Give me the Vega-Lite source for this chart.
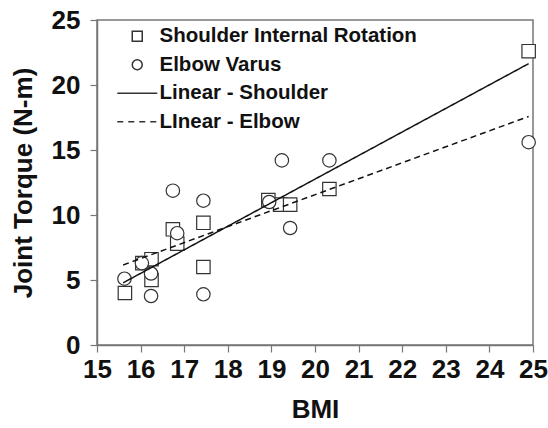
{
  "$schema": "https://vega.github.io/schema/vega-lite/v6.json",
  "width": 436,
  "height": 325,
  "autosize": {"type": "none"},
  "padding": {"left": 97, "top": 20, "right": 15, "bottom": 83},
  "background": "white",
  "config": {
    "font": "Liberation Sans",
    "view": {"stroke": "#777", "strokeWidth": 1.5},
    "axis": {
      "grid": false,
      "domainColor": "#777",
      "domainWidth": 1.5,
      "tickColor": "#777",
      "tickWidth": 1.2,
      "tickSize": 7,
      "labelFont": "Liberation Sans",
      "labelFontSize": 26,
      "labelFontWeight": "bold",
      "labelColor": "#111",
      "labelFlush": false,
      "labelOverlap": false,
      "titleFont": "Liberation Sans",
      "titleFontSize": 26,
      "titleFontWeight": "bold",
      "titleColor": "#111"
    }
  },
  "data": {
    "values": [
      {"series": "Shoulder Internal Rotation", "BMI": 15.64, "Torque": 4.0},
      {"series": "Shoulder Internal Rotation", "BMI": 16.04, "Torque": 6.3},
      {"series": "Shoulder Internal Rotation", "BMI": 16.25, "Torque": 6.6},
      {"series": "Shoulder Internal Rotation", "BMI": 16.25, "Torque": 5.0},
      {"series": "Shoulder Internal Rotation", "BMI": 16.74, "Torque": 8.9},
      {"series": "Shoulder Internal Rotation", "BMI": 16.84, "Torque": 7.8},
      {"series": "Shoulder Internal Rotation", "BMI": 17.44, "Torque": 9.4},
      {"series": "Shoulder Internal Rotation", "BMI": 17.44, "Torque": 6.0},
      {"series": "Shoulder Internal Rotation", "BMI": 18.93, "Torque": 11.15},
      {"series": "Shoulder Internal Rotation", "BMI": 19.2, "Torque": 10.8},
      {"series": "Shoulder Internal Rotation", "BMI": 19.43, "Torque": 10.8},
      {"series": "Shoulder Internal Rotation", "BMI": 20.33, "Torque": 12.0},
      {"series": "Shoulder Internal Rotation", "BMI": 24.9, "Torque": 22.6},
      {"series": "Elbow Varus", "BMI": 15.63, "Torque": 5.1},
      {"series": "Elbow Varus", "BMI": 16.03, "Torque": 6.3},
      {"series": "Elbow Varus", "BMI": 16.24, "Torque": 5.5},
      {"series": "Elbow Varus", "BMI": 16.24, "Torque": 3.77},
      {"series": "Elbow Varus", "BMI": 16.74, "Torque": 11.87},
      {"series": "Elbow Varus", "BMI": 16.84, "Torque": 8.6},
      {"series": "Elbow Varus", "BMI": 17.44, "Torque": 11.1},
      {"series": "Elbow Varus", "BMI": 17.44, "Torque": 3.9},
      {"series": "Elbow Varus", "BMI": 18.95, "Torque": 11.0},
      {"series": "Elbow Varus", "BMI": 19.24, "Torque": 14.2},
      {"series": "Elbow Varus", "BMI": 20.33, "Torque": 14.2},
      {"series": "Elbow Varus", "BMI": 19.43, "Torque": 9.0},
      {"series": "Elbow Varus", "BMI": 24.9, "Torque": 15.6}
    ]
  },
  "layer": [
    {
      "mark": {"type": "point", "filled": true, "fill": "white", "stroke": "#333", "strokeWidth": 1.2, "size": 180, "opacity": 1},
      "encoding": {
        "x": {
          "field": "BMI", "type": "quantitative",
          "scale": {"domain": [15, 25], "nice": false, "zero": false},
          "axis": {"values": [15, 16, 17, 18, 19, 20, 21, 22, 23, 24, 25], "title": "BMI", "labelPadding": 4, "titlePadding": 14}
        },
        "y": {
          "field": "Torque", "type": "quantitative",
          "scale": {"domain": [0, 25], "nice": false},
          "axis": {"values": [0, 5, 10, 15, 20, 25], "title": "Joint Torque (N-m)", "labelPadding": 10, "titlePadding": 15}
        },
        "shape": {
          "field": "series", "type": "nominal",
          "scale": {
            "domain": ["Shoulder Internal Rotation", "Elbow Varus", "Linear - Shoulder", "LInear - Elbow"],
            "range": ["square", "circle", "M-4,0L4,0", "M-4,0L-2.8,0M-1.8,0L-0.6,0M0.4,0L1.6,0M2.6,0L3.8,0"]
          },
          "legend": {
            "title": null,
            "orient": "none",
            "legendX": 30,
            "legendY": 6,
            "padding": 0,
            "symbolSize": 100,
            "labelFont": "Liberation Sans",
            "labelFontSize": 20.5,
            "labelFontWeight": "bold",
            "labelColor": "#111",
            "labelOffset": 12,
            "labelLimit": 400,
            "rowPadding": 7.5
          }
        }
      }
    },
    {
      "transform": [
        {"regression": "Torque", "on": "BMI", "groupby": ["series"], "method": "linear", "extent": [15.6, 24.9]}
      ],
      "mark": {"type": "line", "color": "#111", "strokeWidth": 1.5},
      "encoding": {
        "x": {"field": "BMI", "type": "quantitative"},
        "y": {"field": "Torque", "type": "quantitative"},
        "detail": {"field": "series", "type": "nominal"},
        "strokeDash": {
          "field": "series", "type": "nominal",
          "scale": {"domain": ["Shoulder Internal Rotation", "Elbow Varus"], "range": [[1, 0], [6, 4]]},
          "legend": null
        }
      }
    }
  ]
}
